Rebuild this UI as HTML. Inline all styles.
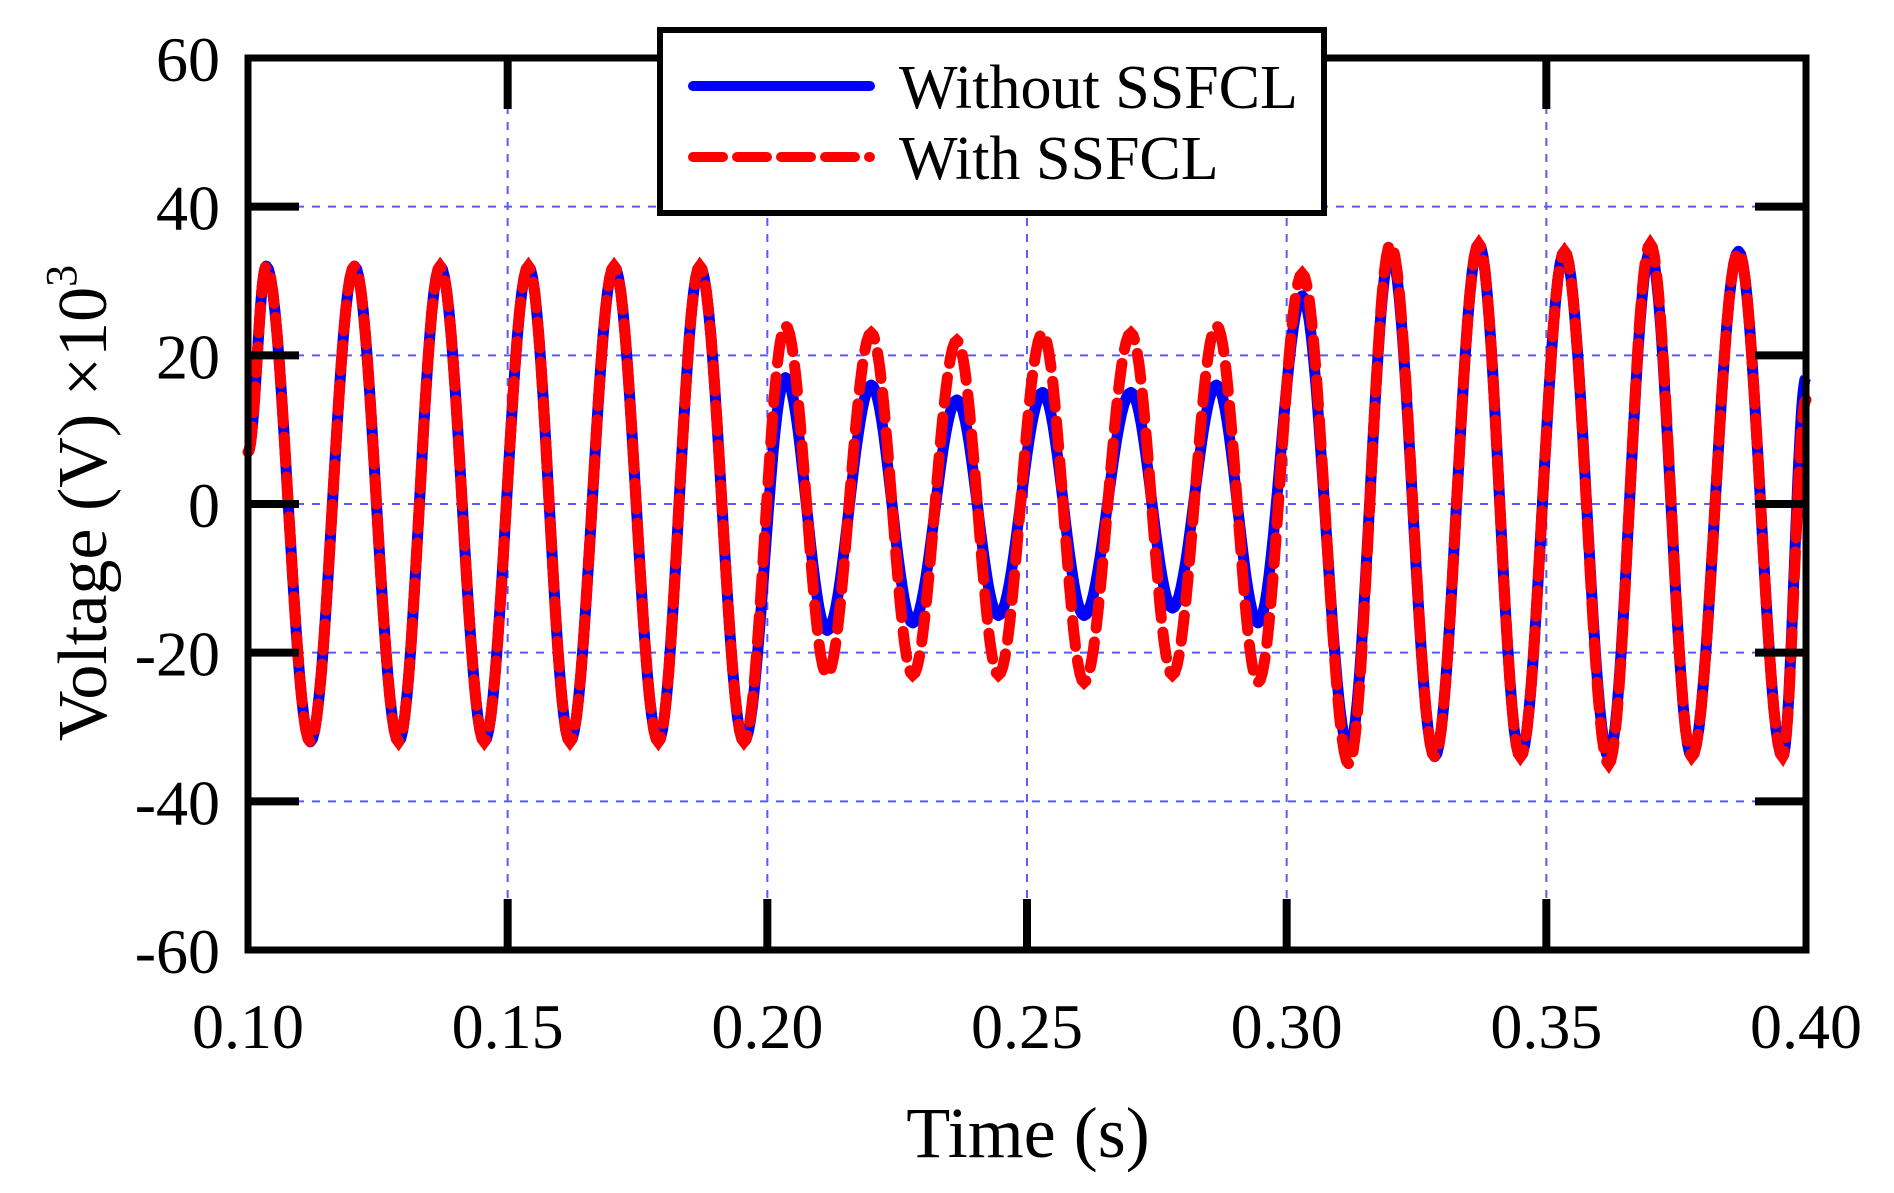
<!DOCTYPE html>
<html><head><meta charset="utf-8">
<style>
html,body{margin:0;padding:0;background:#fff;}
svg{display:block;font-family:"Liberation Serif",serif;}
</style></head>
<body>
<svg id="chart" width="1894" height="1193" viewBox="0 0 1894 1193" xmlns="http://www.w3.org/2000/svg">
<g id="grid"></g>
<g id="series"></g>
<g id="axes"></g>
<g id="legend">
  <rect x="660" y="30" width="664" height="183" fill="#fff" stroke="#000" stroke-width="6"/>
  <line x1="693" y1="86" x2="870" y2="86" stroke="#0000ff" stroke-width="10" stroke-linecap="round"/>
  <text x="899" y="108" font-size="62">Without SSFCL</text>
  <line x1="693" y1="157" x2="870" y2="157" stroke="#ff0000" stroke-width="10" stroke-linecap="round" stroke-dasharray="30 14"/>
  <text x="899" y="179" font-size="62">With SSFCL</text>
</g>
<text x="1028" y="1157" font-size="72" text-anchor="middle">Time (s)</text>
<text transform="translate(106,503) rotate(-90)" font-size="70" text-anchor="middle">Voltage (V) ×10<tspan font-size="44" dy="-30">3</tspan></text>
</svg>
<script>
const xTicks=[0.10,0.15,0.20,0.25,0.30,0.35,0.40];
const xTickLabels=["0.10","0.15","0.20","0.25","0.30","0.35","0.40"];
const yTicks=[-60,-40,-20,0,20,40,60];
const yTickLabels=["-60","-40","-20","0","20","40","60"];
// extrema times (s) and values (kV)
const extremaTimes=[0.100,0.1035,0.112,0.1205,0.129,0.137,0.1455,0.154,0.162,0.1705,0.179,0.187,0.1955,0.2035,0.2115,0.220,0.228,0.2365,0.2445,0.253,0.261,0.270,0.278,0.2865,0.2945,0.303,0.312,0.320,0.3285,0.337,0.345,0.3535,0.362,0.370,0.378,0.387,0.3955,0.400];
const withoutValues=[7,32,-32,32,-32,32,-32,32,-32,32,-32,32,-32,17,-17,16,-16,14,-15,15,-15,15,-14,16,-16,28,-33,34,-34,35,-34,34,-34,34,-34,34,-34,17];
const withValues=[7,32,-32,32,-32,32,-32,32,-32,32,-32,32,-32,24,-23,23,-23,22,-23,23,-24,23,-23,24,-24,31,-35,35,-34,35,-34,34,-35,35,-34,34,-34,14];

const L=248,R=1806,T=58,B=950;
const xs=t=>L+(t-0.10)/0.30*(R-L);
const ys=v=>B-(v+60)/120*(B-T);
const NS="http://www.w3.org/2000/svg";
function mk(tag,attrs,parent){const e=document.createElementNS(NS,tag);for(const k in attrs)e.setAttribute(k,attrs[k]);parent.appendChild(e);return e;}
const grid=document.getElementById('grid'),axes=document.getElementById('axes'),series=document.getElementById('series');

xTicks.forEach((t,i)=>{
  if(i>0&&i<xTicks.length-1){
    const g=mk('line',{x1:xs(t),x2:xs(t),y1:T,y2:B,stroke:'#5a5aff','stroke-width':2,'stroke-dasharray':'8 8'},grid);
    
    
    const a=mk('line',{x1:xs(t),x2:xs(t),y1:T,y2:T+51,stroke:'#000','stroke-width':8},axes);
    
    
    const b=mk('line',{x1:xs(t),x2:xs(t),y1:B,y2:B-51,stroke:'#000','stroke-width':8},axes);
    
    
  }
  const tx=mk('text',{x:xs(t),y:1048,'font-size':64,'text-anchor':'middle'},axes);
  tx.textContent=xTickLabels[i];
  
  
});
yTicks.forEach((v,i)=>{
  if(i>0&&i<yTicks.length-1){
    const g=mk('line',{x1:L,x2:R,y1:ys(v),y2:ys(v),stroke:'#5a5aff','stroke-width':2,'stroke-dasharray':'8 8'},grid);
    
    
    const a=mk('line',{x1:L,x2:L+51,y1:ys(v),y2:ys(v),stroke:'#000','stroke-width':8},axes);
    
    
    const b=mk('line',{x1:R,x2:R-51,y1:ys(v),y2:ys(v),stroke:'#000','stroke-width':8},axes);
    
    
  }
  const tx=mk('text',{x:220,y:ys(v)+23,'font-size':64,'text-anchor':'end'},axes);
  tx.textContent=yTickLabels[i];
  
  
});
const frame=mk('rect',{x:L,y:T,width:R-L,height:B-T,fill:'none',stroke:'#000','stroke-width':7},axes);



function pathFor(vals){
  let d='';
  for(let i=0;i<extremaTimes.length-1;i++){
    const t0=extremaTimes[i],t1=extremaTimes[i+1],a=vals[i],b=vals[i+1];
    for(let k=0;k<=20;k++){
      const f=k/20,t=t0+(t1-t0)*f,v=a+(b-a)*(1-Math.cos(Math.PI*f))/2;
      d+=(d?'L':'M')+xs(t).toFixed(1)+' '+ys(v).toFixed(1);
    }
  }
  return d;
}
const p1=mk('path',{d:pathFor(withoutValues),fill:'none',stroke:'#0000ff','stroke-width':11,'stroke-linejoin':'round'},series);


const p2=mk('path',{d:pathFor(withValues),fill:'none',stroke:'#ff0000','stroke-width':11,'stroke-dasharray':'26 14','stroke-linecap':'round'},series);


</script>
</body></html>
